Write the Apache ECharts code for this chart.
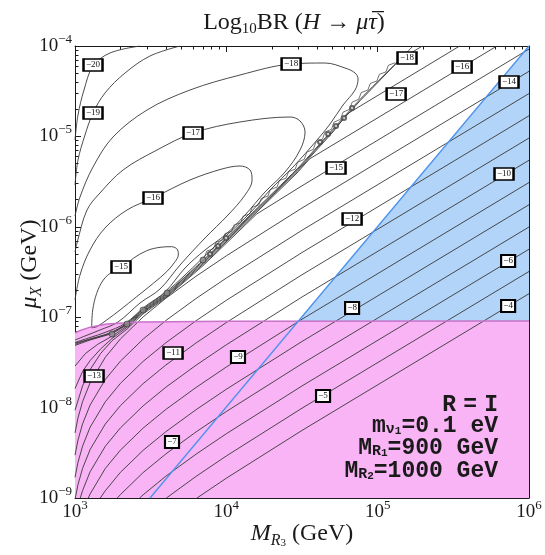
<!DOCTYPE html>
<html><head><meta charset="utf-8">
<script src="https://cdn.jsdelivr.net/npm/echarts@6/dist/echarts.min.js"></script>
<style>html,body{margin:0;padding:0;background:#fff}#c{width:545px;height:555px}</style>
</head><body><div id="c"></div>
<script>
// ---- axes (log10 exponents) ----
const xExp = [3, 4, 5, 6];            // M_R3 = 10^3 ... 10^6 GeV
const yExp = [-9, -8, -7, -6, -5, -4]; // mu_X = 10^-9 ... 10^-4 GeV

// ---- shaded regions (log10 x, log10 y) ----
const pinkTop = [[3.0,-7.175],[3.03,-7.15],[3.1,-7.11],[3.21,-7.075],[3.43,-7.053],[4.0,-7.045],[6.0,-7.042]];
const blueEdge = [[3.4957,-9],[6,-4]];

// ---- contour lines right of the valley (log10 x, log10 y) ----
const lineM4  = [[3.806,-9],[4.0,-8.781],[4.5,-8.2525],[6,-6.74]];
const lineM5  = [[3.604,-9],[3.8,-8.761],[4.0,-8.535],[4.5,-8.0065],[6,-6.494]];
const lineM6  = [[3.4265,-9],[3.45,-8.965],[3.6,-8.759],[3.8,-8.515],[4.0,-8.289],[4.5,-7.7605],[6,-6.248]];
const lineM7  = [[3.28,-9],[3.3,-8.9625],[3.45,-8.719],[3.6,-8.513],[3.8,-8.269],[4.0,-8.043],[4.5,-7.5145],[6,-6.002]];
const lineM8  = [[3.167,-9],[3.2,-8.92],[3.3,-8.7165],[3.45,-8.473],[3.6,-8.267],[3.8,-8.023],[4.0,-7.797],[4.5,-7.2685],[6,-5.756]];
const lineM9  = [[3.088,-9],[3.1,-8.955],[3.2,-8.674],[3.3,-8.4705],[3.45,-8.227],[3.6,-8.021],[3.8,-7.777],[4.0,-7.551],[4.5,-7.0225],[6,-5.51]];
const lineM10 = [[3.035,-9],[3.05,-8.918],[3.1,-8.709],[3.2,-8.428],[3.3,-8.2245],[3.45,-7.981],[3.6,-7.775],[3.8,-7.531],[4.0,-7.305],[4.5,-6.7765],[6,-5.264]];
const lineM11 = [[3.002,-9],[3.02,-8.85],[3.05,-8.672],[3.1,-8.463],[3.2,-8.182],[3.3,-7.9785],[3.45,-7.735],[3.6,-7.529],[3.8,-7.285],[4.0,-7.059],[4.5,-6.5305],[6,-5.018]];
const lineM12 = [[3.0,-8.772],[3.02,-8.604],[3.05,-8.426],[3.1,-8.217],[3.2,-7.936],[3.3,-7.7325],[3.45,-7.489],[3.6,-7.283],[3.8,-7.039],[4.0,-6.813],[4.5,-6.2845],[6,-4.772]];
const lineM13 = [[3.0,-8.526],[3.02,-8.358],[3.05,-8.18],[3.1,-7.971],[3.2,-7.69],[3.3,-7.4865],[3.45,-7.243],[3.6,-7.037],[3.8,-6.793],[4.0,-6.567],[4.5,-6.0385],[6,-4.526]];
const lineM14 = [[3.0,-8.28],[3.02,-8.112],[3.05,-7.934],[3.1,-7.725],[3.2,-7.444],[3.3,-7.2405],[3.45,-6.997],[3.6,-6.791],[3.8,-6.547],[4.0,-6.321],[4.5,-5.7925],[6,-4.28]];
const lineM15 = [[6,-4.034],[4.5,-5.5465],[4.2,-5.859],[3.846,-6.43],[3.608,-6.775],[3.449,-6.965],[3.345,-7.13],[3.245,-7.26],[3.17,-7.40],[3.1,-7.58],[3.05,-7.76],[3.0,-8.03]];
const lineM16 = [[5.788,-4.0],[4.55,-5.249],[4.467,-5.405],[4.157,-5.91],[3.846,-6.415],[3.608,-6.765],[3.449,-6.95],[3.345,-7.11],[3.245,-7.235],[3.17,-7.35],[3.1,-7.48],[3.05,-7.60],[3.0,-7.79]];
const lineM17 = [[5.542,-4.0],[4.80,-4.75],[4.705,-4.95],[4.467,-5.39],[4.157,-5.895],[3.846,-6.40],[3.608,-6.755],[3.449,-6.94],[3.345,-7.095],[3.245,-7.21],[3.15,-7.30],[3.07,-7.40],[3.0,-7.54]];
const lineM18 = [[5.296,-4.0],[5.15,-4.146],[4.884,-4.605],[4.705,-4.935],[4.467,-5.375],[4.157,-5.882],[3.846,-6.383],[3.608,-6.742],[3.449,-6.932],[3.345,-7.082],[3.245,-7.182],[3.1,-7.252],[3.0,-7.312]];

// ---- closed / open contours left of the valley ----
const loopM15 = [[3.1104,-7.1162],[3.117,-6.9204],[3.1434,-6.7356],[3.187,-6.5885],[3.2445,-6.5],[3.3087,-6.4524],[3.3853,-6.3485],[3.4739,-6.2644],[3.5618,-6.2268],[3.6391,-6.2201],[3.6788,-6.2566],[3.6828,-6.3119],[3.6609,-6.3861],[3.606,-6.4967],[3.5175,-6.625],[3.4078,-6.7732],[3.2974,-6.9204],[3.2095,-7.031],[3.1434,-7.1051],[3.1104,-7.1162]];
const loopM16 = [[3.0,-6.8097],[3.033,-6.5332],[3.0991,-6.2566],[3.1983,-6.0133],[3.3437,-5.8142],[3.5155,-5.6814],[3.7601,-5.4823],[3.9716,-5.3606],[4.0905,-5.3274],[4.1566,-5.3717],[4.1699,-5.4823],[4.1236,-5.6482],[4.0112,-5.8695],[3.8592,-6.1239],[3.694,-6.4226],[3.5618,-6.688],[3.4296,-6.8429],[3.2842,-7.0531],[3.1652,-7.1416],[3.0661,-7.208],[3.0,-7.2522]];
const loopM17 = [[3.0,-6.2788],[3.0132,-6.1792],[3.0793,-5.8142],[3.1652,-5.6261],[3.3173,-5.3717],[3.542,-5.1504],[3.7799,-4.9624],[4.0905,-4.8407],[4.421,-4.7854],[4.4871,-4.8296],[4.5202,-4.9513],[4.4871,-5.1504],[4.388,-5.3938],[4.2558,-5.615],[4.1236,-5.8695],[3.9914,-6.0907],[3.8592,-6.2566],[3.727,-6.4558],[3.5948,-6.7212],[3.4627,-6.8816],[3.3305,-7.0697],[3.1983,-7.1692],[3.0991,-7.2246],[3.0,-7.2799]];
const loopM18 = [[3.0,-5.8805],[3.033,-5.6704],[3.119,-5.3385],[3.2512,-5.0066],[3.4759,-4.708],[3.7601,-4.4867],[4.0905,-4.3208],[4.4276,-4.1991],[4.6523,-4.1881],[4.7845,-4.2434],[4.8506,-4.2987],[4.8704,-4.365],[4.8506,-4.4867],[4.7713,-4.6527],[4.6854,-4.8628],[4.5995,-5.0398],[4.4408,-5.3385],[4.2888,-5.5929],[4.1566,-5.8473],[3.9121,-6.2345],[3.727,-6.5332],[3.5948,-6.7323],[3.4627,-6.8927],[3.3305,-7.0808],[3.2445,-7.1637],[3.1322,-7.2301],[3.0,-7.2854]];
const loopM19 = [[3.0,-5.5376],[3.0198,-5.2611],[3.0661,-4.9845],[3.119,-4.7412],[3.1983,-4.5199],[3.3305,-4.2987],[3.4957,-4.1106],[3.694,-4.0]];
const loopM20 = [[3.0,-5.0398],[3.0198,-4.7633],[3.0595,-4.4867],[3.119,-4.2212],[3.2313,-4.0774],[3.4296,-4.0]];

// ---- cancellation valley ----
const valley = [[3.0,-7.30],[3.1,-7.24],[3.245,-7.17],[3.345,-7.07],[3.449,-6.92],[3.608,-6.73],[3.846,-6.37],[4.157,-5.87],[4.467,-5.36],[4.705,-4.92],[4.884,-4.59],[5.128,-4.18],[5.234,-4.0]];
const valleyZigzag = [[3.855,-6.3395],[3.871,-6.2683],[3.915,-6.243],[3.931,-6.1718],[3.975,-6.1465],[3.991,-6.0753],[4.035,-6.0501],[4.051,-5.9789],[4.095,-5.9537],[4.111,-5.8824],[4.155,-5.857],[4.171,-5.7847],[4.215,-5.7584],[4.231,-5.686],[4.275,-5.6596],[4.291,-5.5873],[4.335,-5.5609],[4.351,-5.4886],[4.395,-5.4622],[4.411,-5.3899],[4.455,-5.3635],[4.471,-5.2865],[4.515,-5.254],[4.531,-5.1756],[4.575,-5.1431],[4.591,-5.0647],[4.635,-5.032],[4.651,-4.9537],[4.695,-4.9212],[4.711,-4.8429],[4.755,-4.8106],[4.771,-4.7323],[4.815,-4.70],[4.831,-4.6217],[4.875,-4.5894],[4.891,-4.5153],[4.935,-4.4878],[4.951,-4.4144],[4.995,-4.387],[5.011,-4.3136],[5.055,-4.2862],[5.071,-4.2128],[5.115,-4.1854]];
const valleyBlobs = [[3.2445,-7.1858],[3.3437,-7.0752],[3.4494,-6.9204],[3.608,-6.7323],[3.846,-6.3673]];
const valleyRings = [[3.8923,-6.3009],[3.9451,-6.2124],[3.998,-6.1239],[4.6193,-5.0619],[4.6722,-4.9735],[4.725,-4.885],[4.7779,-4.7965],[4.8308,-4.6858]];

// ---- contour labels: log10 x, log10 y, level ----
const contourLabels = [
  [3.119,-4.21,-20],[3.119,-4.741,-19],[4.428,-4.199,-18],[3.78,-4.962,-17],[3.5155,-5.681,-16],
  [3.304,-6.445,-15],[5.194,-4.133,-18],[5.558,-4.232,-16],[5.868,-4.398,-14],[5.122,-4.531,-17],
  [4.725,-5.35,-15],[5.835,-5.416,-10],[4.831,-5.914,-12],[5.862,-6.378,-6],[4.831,-6.898,-8],
  [5.862,-6.876,-4],[3.648,-7.396,-11],[4.077,-7.44,-9],[3.126,-7.65,-13],[3.641,-8.381,-7],[4.639,-7.872,-5]
];

// ---- styling ----
const serif = '"Liberation Serif", "Times New Roman", "DejaVu Serif", serif';
const mono = '"Liberation Mono", "DejaVu Sans Mono", monospace';
const ink = '#1a1a1a';
const lineInk = '#383838';
const pinkFill = '#F8B4F4';
const pinkEdge = '#C872C8';
const blueFill = '#B2D4F8';
const blueLine = '#4A92EE';

const xMinor = [], yMinor = [];
for (let i = 0; i < xExp.length - 1; i++) for (let k = 2; k <= 9; k++) xMinor.push(xExp[i] + Math.log10(k));
for (let i = 0; i < yExp.length - 1; i++) for (let k = 2; k <= 9; k++) yMinor.push(yExp[i] + Math.log10(k));

const supRich = {
  b: {fontFamily: serif, fontSize: 19, lineHeight: 26, color: ink},
  s: {fontFamily: serif, fontSize: 13, lineHeight: 13, verticalAlign: 'top', color: ink}
};

function axis(kind, pos, major, withLabel) {
  const isX = kind === 'x';
  const a = {
    type: 'value', position: pos,
    min: isX ? xExp[0] : yExp[0], max: isX ? xExp[xExp.length-1] : yExp[yExp.length-1], interval: 1,
    axisLine: {show: major, onZero: false, lineStyle: {color: ink, width: 1}},
    axisTick: {show: true, inside: true, length: major ? 6 : 3.5, lineStyle: {color: ink, width: 1},
               customValues: major ? (isX ? xExp : yExp) : (isX ? xMinor : yMinor)},
    splitLine: {show: false},
    axisLabel: {show: false}
  };
  if (withLabel) {
    a.axisLabel = {show: true, margin: isX ? 1 : 3, showMinLabel: true, showMaxLabel: true,
      formatter: v => isX ? '{b|10}{s|' + v + '}' : '{b|10}{s|\u2212' + (-v) + '}', rich: supRich};
  }
  return a;
}

const xA = [axis('x','bottom',true,true), axis('x','bottom',false,false), axis('x','top',true,false), axis('x','top',false,false)];
const yA = [axis('y','left',true,true), axis('y','left',false,false), axis('y','right',true,false), axis('y','right',false,false)];

const nameRich = {
  i: {fontFamily: serif, fontStyle: 'italic', fontSize: 24, lineHeight: 30, color: ink},
  r: {fontFamily: serif, fontStyle: 'italic', fontSize: 16, lineHeight: 17, verticalAlign: 'bottom', color: ink},
  t: {fontFamily: serif, fontSize: 11, lineHeight: 10, verticalAlign: 'bottom', color: ink},
  n: {fontFamily: serif, fontSize: 24, lineHeight: 30, color: ink}
};
xA[0].name = '{i|M}{r|R}{t|3}{n| (GeV)}';
xA[0].nameLocation = 'middle';
xA[0].nameGap = 21;
xA[0].nameMoveOverlap = false;
xA[0].nameTextStyle = {rich: nameRich};
yA[0].name = '{i|\u03bc}{r|X}{n| (GeV)}';
yA[0].nameLocation = 'middle';
yA[0].nameRotate = 90;
yA[0].nameGap = 30;
yA[0].nameMoveOverlap = false;
yA[0].nameTextStyle = {padding: [0, 0, 0, 16], rich: nameRich};

function cLine(data, extra) {
  return Object.assign({type: 'line', data: data, symbol: 'none', silent: true, animation: false,
    lineStyle: {color: lineInk, width: 0.9}, z: 3}, extra || {});
}

const contourLines = [lineM4, lineM5, lineM6, lineM7, lineM8, lineM9, lineM10, lineM11, lineM12, lineM13, lineM14, lineM15, lineM16, lineM17, lineM18];
const contourLoops = [loopM15, loopM16, loopM17, loopM18, loopM19, loopM20];

const series = [
  {type: 'line', data: blueEdge, symbol: 'none', silent: true, lineStyle: {width: 0},
   areaStyle: {color: blueFill, opacity: 1, origin: 'start'}, z: 1},
  {type: 'line', data: pinkTop, symbol: 'none', silent: true, lineStyle: {width: 0},
   areaStyle: {color: pinkFill, opacity: 1, origin: 'start'}, z: 1},
  ...contourLines.map(d => cLine(d)),
  ...contourLoops.map(d => cLine(d, {smooth: 0.35})),
  cLine(valley, {smooth: 0.2}),
  cLine(valleyZigzag, {lineStyle: {color: lineInk, width: 0.7}}),
  {type: 'line', data: pinkTop, symbol: 'none', silent: true, lineStyle: {color: pinkEdge, width: 1.5}, z: 4},
  {type: 'line', data: blueEdge, symbol: 'none', silent: true, lineStyle: {color: blueLine, width: 1.3}, z: 4},
  {type: 'scatter', data: valleyBlobs, symbol: 'circle', symbolSize: 6, silent: true,
   itemStyle: {color: '#8a8a8a', borderColor: '#333', borderWidth: 0.8}, z: 5},
  {type: 'scatter', data: valleyRings, symbol: 'emptyCircle', symbolSize: 4, silent: true,
   itemStyle: {color: '#444', borderColor: '#444', borderWidth: 0.8}, z: 5},
  {type: 'scatter', data: contourLabels, symbol: 'rect', silent: true, z: 6,
   symbolSize: v => (Math.abs(v[2]) >= 10 ? [19, 12] : [14, 12]),
   itemStyle: {color: '#ffffff', borderColor: '#000000', borderWidth: 2, opacity: 1},
   label: {show: true, position: 'inside', formatter: p => '\u2212' + Math.abs(p.value[2]),
     fontFamily: serif, fontSize: 9, color: '#111'}}
];

const annot = (y, text, rich) => ({type: 'text', x: 498, y: y, z: 100,
  style: {text: text, align: 'right', verticalAlign: 'middle', fill: ink,
    font: 'bold 23px ' + mono, rich: rich}});
const annRich = {
  a: {fontFamily: mono, fontWeight: 'bold', fontSize: 23, lineHeight: 22, color: ink},
  g: {fontFamily: mono, fontWeight: 'bold', fontSize: 12, lineHeight: 22, color: ink},
  s: {fontFamily: mono, fontWeight: 'bold', fontSize: 15, lineHeight: 13, verticalAlign: 'bottom', color: ink},
  t: {fontFamily: mono, fontWeight: 'bold', fontSize: 11, lineHeight: 8, verticalAlign: 'bottom', color: ink}
};

const chart = echarts.init(document.getElementById('c'), null, {renderer: 'canvas'});
chart.setOption({
  animation: false,
  backgroundColor: '#fff',
  title: {
    text: '{n|Log}{d|10}{n|BR (}{i|H}{n| \u2192 }{i|\u03bc\u03c4\u0305}{n|)}',
    left: 289, top: 4, textAlign: 'center',
    textStyle: {fontWeight: 'normal', rich: {
      n: {fontFamily: serif, fontWeight: 'normal', fontSize: 24, lineHeight: 28, color: ink},
      d: {fontFamily: serif, fontWeight: 'normal', fontSize: 15, lineHeight: 12, verticalAlign: 'bottom', color: ink},
      i: {fontFamily: serif, fontWeight: 'normal', fontStyle: 'italic', fontSize: 24, lineHeight: 28, color: ink}
    }}
  },
  grid: {left: 75, right: 16, top: 46, bottom: 57, containLabel: false, outerBoundsMode: 'none'},
  xAxis: xA,
  yAxis: yA,
  series: series,
  graphic: [
    annot(405, '{a|R}{g| }{a|=}{g| }{a|I}', annRich),
    annot(426, '{a|m}{s|\u03bd}{t|1}{a|=0.1 eV}', annRich),
    annot(448, '{a|M}{s|R}{t|1}{a|=900 GeV}', annRich),
    annot(471, '{a|M}{s|R}{t|2}{a|=1000 GeV}', annRich)
  ]
});
</script></body></html>
